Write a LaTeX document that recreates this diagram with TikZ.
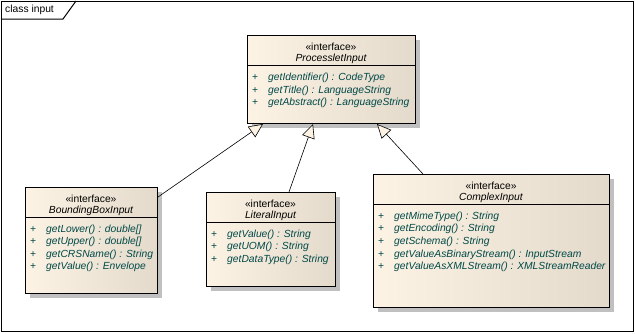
\documentclass[tikz,border=0pt]{standalone}
\usepackage{fontspec}
\setmainfont{Liberation Sans}
\usepackage{xcolor}
\usetikzlibrary{arrows.meta, shadows}

\definecolor{boxleft}{RGB}{252,243,228}
\definecolor{boxright}{RGB}{227,218,203}
\definecolor{membercol}{RGB}{0,72,72}
\definecolor{shadowgray}{RGB}{192,192,192}

\begin{document}
\begin{tikzpicture}[
    x=1pt, y=-1pt,
    every node/.style={font=\fontsize{10.3}{12}\selectfont, inner sep=0pt},
    classbox/.style={draw, line width=1pt, anchor=north west,
      left color=boxleft, right color=boxright,
      drop shadow={shadow xshift=4pt, shadow yshift=-4pt, fill=shadowgray, opacity=1}},
    cname/.style={font=\fontsize{10.3}{12}\selectfont\itshape},
    member/.style={anchor=west, text=membercol, font=\fontsize{10.3}{12}\selectfont\itshape},
    plus/.style={anchor=west, text=membercol},
    inherit/.style={-{Triangle[length=14pt, width=13pt, fill=boxleft]}, line width=0.6pt}
  ]
  \useasboundingbox (0,0) rectangle (635,333);
  % Frame
  \draw[line width=1pt] (1,1) rectangle (633,331);
  \draw[line width=1pt] (1,19) -- (63,19) -- (76,1);
  \node[anchor=west] (frametitle) at (5,10) {class input};
  % ProcessletInput
  \node[classbox, minimum width=168, minimum height=88] (proc) at (247,35) {};
  \draw[line width=1pt] ([yshift=-30]proc.north west) -- ([yshift=-30]proc.north east);
  \node (procst) at (331,47) {«interface»};
  \node[cname] (procname) at (331,59) {ProcessletInput};
  \node[plus] (procp1) at (252,78) {+};
  \node[member] (procm1) at (268,78) {getIdentifier() : CodeType};
  \node[plus] (procp2) at (252,91) {+};
  \node[member] (procm2) at (268,91) {getTitle() : LanguageString};
  \node[plus] (procp3) at (252,103) {+};
  \node[member] (procm3) at (268,103) {getAbstract() : LanguageString};
  % BoundingBoxInput
  \node[classbox, minimum width=132, minimum height=106] (bbox) at (25,187) {};
  \draw[line width=1pt] ([yshift=-30]bbox.north west) -- ([yshift=-30]bbox.north east);
  \node (bboxst) at (91,199) {«interface»};
  \node[cname] (bboxname) at (91,211) {BoundingBoxInput};
  \node[plus] (bboxp1) at (30,230) {+};
  \node[member] (bboxm1) at (46,230) {getLower() : double[]};
  \node[plus] (bboxp2) at (30,242) {+};
  \node[member] (bboxm2) at (46,242) {getUpper() : double[]};
  \node[plus] (bboxp3) at (30,255) {+};
  \node[member] (bboxm3) at (46,255) {getCRSName() : String};
  \node[plus] (bboxp4) at (30,267) {+};
  \node[member] (bboxm4) at (46,267) {getValue() : Envelope};
  % LiteralInput
  \node[classbox, minimum width=129, minimum height=94] (lit) at (206,192) {};
  \draw[line width=1pt] ([yshift=-30]lit.north west) -- ([yshift=-30]lit.north east);
  \node (litst) at (270.5,204) {«interface»};
  \node[cname] (litname) at (270.5,216) {LiteralInput};
  \node[plus] (litp1) at (211,235) {+};
  \node[member] (litm1) at (227,235) {getValue() : String};
  \node[plus] (litp2) at (211,247) {+};
  \node[member] (litm2) at (227,247) {getUOM() : String};
  \node[plus] (litp3) at (211,260) {+};
  \node[member] (litm3) at (227,260) {getDataType() : String};
  % ComplexInput
  \node[classbox, minimum width=236, minimum height=133] (cplx) at (373,174) {};
  \draw[line width=1pt] ([yshift=-30]cplx.north west) -- ([yshift=-30]cplx.north east);
  \node (cplxst) at (491,186) {«interface»};
  \node[cname] (cplxname) at (491,198) {ComplexInput};
  \node[plus] (cplxp1) at (378,217) {+};
  \node[member] (cplxm1) at (394,217) {getMimeType() : String};
  \node[plus] (cplxp2) at (378,229) {+};
  \node[member] (cplxm2) at (394,229) {getEncoding() : String};
  \node[plus] (cplxp3) at (378,242) {+};
  \node[member] (cplxm3) at (394,242) {getSchema() : String};
  \node[plus] (cplxp4) at (378,255) {+};
  \node[member] (cplxm4) at (394,255) {getValueAsBinaryStream() : InputStream};
  \node[plus] (cplxp5) at (378,267) {+};
  \node[member] (cplxm5) at (394,267) {getValueAsXMLStream() : XMLStreamReader};
  % Generalizations
  \draw[inherit] ([yshift=-10]bbox.north east) -- ([xshift=16]proc.south west);
  \draw[inherit] ([xshift=83]lit.north west) -- ([xshift=66]proc.south west);
  \draw[inherit] ([xshift=50]cplx.north west) -- ([xshift=130]proc.south west);
\end{tikzpicture}
\end{document}
